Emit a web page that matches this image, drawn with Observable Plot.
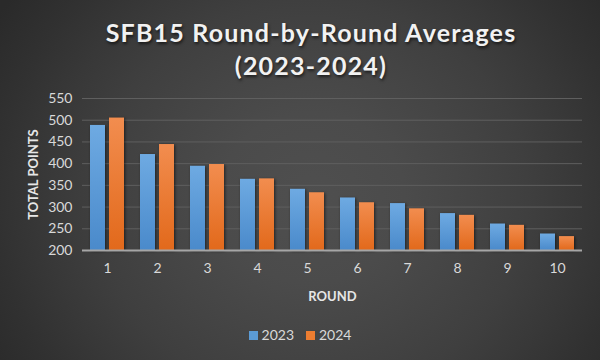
<!DOCTYPE html>
<html>
<head>
<meta charset="utf-8">
<script src="https://cdn.jsdelivr.net/npm/d3@7"></script>
<script src="https://cdn.jsdelivr.net/npm/@observablehq/plot@0.6"></script>
<style>
  html, body { margin: 0; padding: 0; }
  body { width: 600px; height: 360px; overflow: hidden; }
  #wrap {
    position: relative; width: 600px; height: 360px; overflow: hidden;
    background: radial-gradient(ellipse 62% 95% at 52% 55%, #4f4f4f 0%, #4b4b4b 25%, #454545 42%, #3f3f3f 58%, #383838 72%, #313131 85%, #2a2a2a 100%), #262626;
    font-family: Lato, "Open Sans", sans-serif;
  }
  #title {
    position: absolute; left: 11px; top: 0; width: 600px; text-align: center;
    color: #f2f2f2; font-weight: bold; font-size: 25px; letter-spacing: 1.2px;
    line-height: 33px; padding-top: 16px;
    text-shadow: 1px 2px 3px rgba(0,0,0,0.6);
  }
  #chart { position: absolute; left: 0; top: 85px; }
  #legend {
    position: absolute; left: 0; top: 326px; width: 600px; text-align: center;
    color: #d9d9d9; font-size: 14px; line-height: 18px;
  }
  #legend span.sw { display: inline-block; width: 9px; height: 9px; margin-right: 4px; vertical-align: 0px; }
  #legend span.it { margin: 0 6px; }
  svg .bars rect { filter: drop-shadow(1px 1px 1.5px rgba(0,0,0,0.55)); }
</style>
</head>
<body>
<div id="wrap">
  <div id="title">SFB15 Round-by-Round Averages<br>(2023-2024)</div>
  <div id="chart"></div>
  <div id="legend"></div>
</div>
<script>
const rounds = [1, 2, 3, 4, 5, 6, 7, 8, 9, 10];
const years = ["2023", "2024"];
const avg2023 = [488, 421, 394, 364, 341, 321, 308, 285, 261, 238];
const avg2024 = [505, 444, 398, 365, 333, 310, 296, 281, 258, 232];
const yTicks = [200, 250, 300, 350, 400, 450, 500, 550];
const colors = {"2023": "url(#g2023)", "2024": "url(#g2024)"};
const swatch = {"2023": "#5b9bd5", "2024": "#ed7d31"};

const rows = [];
rounds.forEach((r, i) => {
  rows.push({round: r, year: "2023", value: avg2023[i]});
  rows.push({round: r, year: "2024", value: avg2024[i]});
});

const chart = Plot.plot({
  width: 600,
  height: 225,
  marginLeft: 81,
  marginRight: 18,
  marginTop: 13,
  marginBottom: 60,
  style: {background: "transparent", color: "#d9d9d9", fontFamily: "Lato, 'Open Sans', sans-serif"},
  fx: {domain: rounds, padding: 0, label: null, axis: null},
  x: {domain: years, paddingInner: 0.21, paddingOuter: 0.42, axis: null},
  y: {domain: [200, 550], ticks: yTicks, label: null},
  marks: [
    Plot.gridY(yTicks.filter(t => t > 200), {stroke: "#5f5f5f", strokeOpacity: 1, strokeWidth: 1}),
    Plot.axisY(yTicks, {tickSize: 0, tickPadding: 10, fontSize: 14, fill: "#d9d9d9",
      label: "TOTAL POINTS", labelAnchor: "center", labelArrow: "none", labelOffset: 54}),
    Plot.axisFx({anchor: "bottom", tickSize: 0, tickPadding: 13, fontSize: 14, fill: "#d9d9d9",
      label: "ROUND", labelAnchor: "center", labelArrow: "none", labelOffset: 50}),
    Plot.barY(rows, {fx: "round", x: "year", y1: 200, y2: "value", fill: d => colors[d.year], className: "bars"}),
    Plot.ruleY([200], {stroke: "#a6a6a6", strokeWidth: 2})
  ]
});

const svg = chart.tagName.toLowerCase() === "svg" ? chart : chart.querySelector("svg");
const ns = "http://www.w3.org/2000/svg";
const defs = document.createElementNS(ns, "defs");
function grad(id, top, bottom) {
  const g = document.createElementNS(ns, "linearGradient");
  g.setAttribute("id", id);
  g.setAttribute("x1", "0"); g.setAttribute("y1", "0");
  g.setAttribute("x2", "0"); g.setAttribute("y2", "1");
  [[0, top], [1, bottom]].forEach(([o, c]) => {
    const s = document.createElementNS(ns, "stop");
    s.setAttribute("offset", o);
    s.setAttribute("stop-color", c);
    g.appendChild(s);
  });
  defs.appendChild(g);
}
grad("g2023", "#6eaae2", "#4a8acb");
grad("g2024", "#f28d4f", "#e2691b");
svg.insertBefore(defs, svg.firstChild);
svg.querySelectorAll("g[aria-label='y-axis label'] text, g[aria-label='fx-axis label'] text").forEach(t => {
  t.setAttribute("font-weight", "bold");
  t.setAttribute("font-size", "13");
  t.setAttribute("fill", "#e6e6e6");
});
document.getElementById("chart").appendChild(chart);

const legend = document.getElementById("legend");
legend.innerHTML = years.map(y => `<span class="it"><span class="sw" style="background:${swatch[y]}"></span>${y}</span>`).join("");
</script>
</body>
</html>
